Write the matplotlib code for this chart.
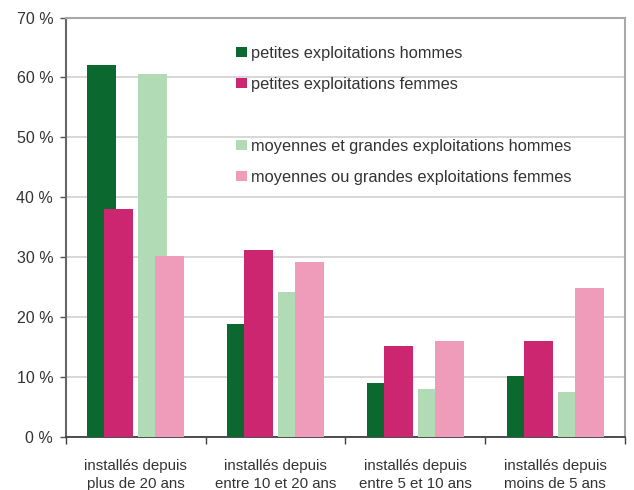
import matplotlib
matplotlib.use("Agg")
import matplotlib.pyplot as plt
from matplotlib.patches import Rectangle
import numpy as np

plt.rcParams['font.family'] = ['Liberation Sans', 'DejaVu Sans']

categories = ["installés depuis\nplus de 20 ans", "installés depuis\nentre 10 et 20 ans",
              "installés depuis\nentre 5 et 10 ans", "installés depuis\nmoins de 5 ans"]
series_names = ["petites exploitations hommes", "petites exploitations femmes",
                "moyennes et grandes exploitations hommes", "moyennes ou grandes exploitations femmes"]
petites_hommes = [62.1, 18.9, 9.0, 10.2]
petites_femmes = [38.1, 31.1, 15.2, 15.9]
moy_gr_hommes = [60.6, 24.2, 8.0, 7.5]
moy_gr_femmes = [30.2, 29.2, 15.9, 24.9]
yticks = [0, 10, 20, 30, 40, 50, 60, 70]
ytick_labels = ["0 %", "10 %", "20 %", "30 %", "40 %", "50 %", "60 %", "70 %"]

colors = ["#0B6930", "#CC2670", "#B1DBB5", "#EF9BBA"]
offsets = [-0.243, -0.122, 0.122, 0.243]
width = 0.207

fig = plt.figure(figsize=(6.34, 4.9), dpi=100)
ax = fig.add_axes([65.7/634, 1-436.7/490, (625-65.7)/634, (436.7-17.5)/490])

x = np.arange(len(categories))
handles = []
for vals, off, c in zip([petites_hommes, petites_femmes, moy_gr_hommes, moy_gr_femmes], offsets, colors):
    b = ax.bar(x + off, vals, width=width, color=c, zorder=3, linewidth=0)
    handles.append(b)

ax.set_xlim(-0.5, 3.5)
ax.set_ylim(0, 70)
ax.set_yticks(yticks)
ax.set_yticklabels(ytick_labels, fontsize=11.5, color="#333333")
ax.yaxis.grid(True, color="#d4d4d4", linewidth=1.3, zorder=0)
ax.set_axisbelow(True)

ax.set_xticks(np.arange(-0.5, 4.0, 1.0))
ax.set_xticklabels([])
ax.set_xticks(x, minor=True)
ax.set_xticklabels(categories, minor=True, fontsize=10.8, color="#333333", linespacing=1.4)
ax.tick_params(axis='x', which='major', length=5, width=1, color="#404040", direction='out')
ax.tick_params(axis='x', which='minor', length=0, pad=16)
ax.tick_params(axis='y', length=4, width=1, color="#555555", pad=5)

for s in ['top', 'right']:
    ax.spines[s].set_color("#a8a8a8")
    ax.spines[s].set_linewidth(1.5)
ax.spines['left'].set_color("#666666")
ax.spines['left'].set_linewidth(1.5)
ax.spines['bottom'].set_color("#404040")
ax.spines['bottom'].set_linewidth(1.3)

blank = Rectangle((0, 0), 1, 1, visible=False)
leg_handles = [handles[0], handles[1], blank, handles[2], handles[3]]
leg_labels = [series_names[0], series_names[1], " ", series_names[2], series_names[3]]
fs = 11.8
ax.legend(leg_handles, leg_labels, loc='upper left',
          bbox_to_anchor=(236/634, 1-45.6/490), bbox_transform=fig.transFigure,
          frameon=False, fontsize=fs, borderpad=0, borderaxespad=0,
          handlelength=0.67, handleheight=0.61, handletextpad=0.22,
          labelspacing=0.98, labelcolor="#333333")

fig.savefig("out.png", dpi=100)
